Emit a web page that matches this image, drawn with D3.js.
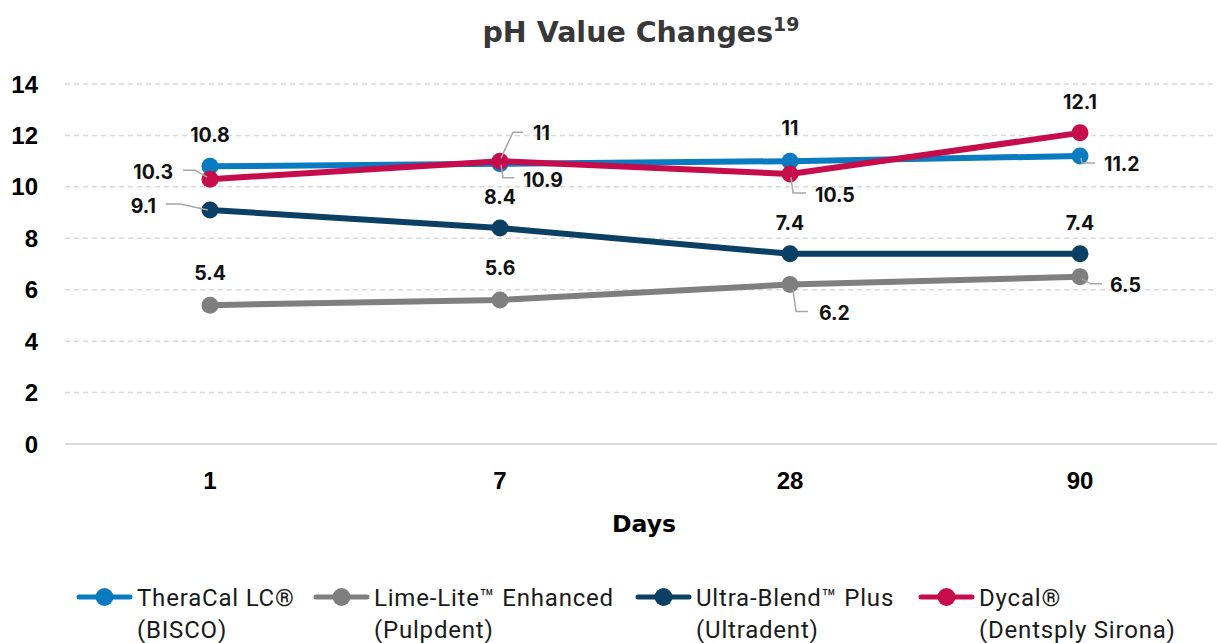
<!DOCTYPE html>
<html>
<head>
<meta charset="utf-8">
<script src="https://cdn.jsdelivr.net/npm/d3@7"></script>
<style>
  body { margin: 0; background: #fff; }
  svg { display: block; }
  .tick-label { font-family: "Liberation Sans", Arial, sans-serif; font-weight: bold; font-size: 24px; fill: #000; }
  .data-label { font-family: Inter, "Noto Sans", sans-serif; font-weight: 700; font-size: 19.5px; fill: #111; }
  .legend-text { font-family: Roboto, "Noto Sans", sans-serif; font-size: 24px; letter-spacing: 0.8px; fill: #1a1a1a; }
</style>
</head>
<body>
<svg id="chart" width="1217" height="643"></svg>
<script>
// 1: DATA
const days = ["1", "7", "28", "90"];
const seriesNames = ["TheraCal LC®", "Lime-Lite™ Enhanced", "Ultra-Blend™ Plus", "Dycal®"];
const seriesMakers = ["(BISCO)", "(Pulpdent)", "(Ultradent)", "(Dentsply Sirona)"];
const theraCal = [10.8, 10.9, 11, 11.2];
const limeLite = [5.4, 5.6, 6.2, 6.5];
const ultraBlend = [9.1, 8.4, 7.4, 7.4];
const dycal = [10.3, 11, 10.5, 12.1];
const yTicks = [0, 2, 4, 6, 8, 10, 12, 14];

const colors = ["#0B7BC1", "#7F7F7F", "#0B3F63", "#C60C4A"];

// label placement per point: dx, dy, anchor, leader line (offsets from point)
const labelLayout = [
  [ {dx: 0, dy: -31, a: "middle"},
    {dx: 23, dy: 16, a: "start", leader: [[1, 1], [3, 14], [14, 14]]},
    {dx: 0, dy: -33, a: "middle"},
    {dx: 24, dy: 8, a: "start", leader: [[1, 2], [2, 7], [15, 7]]} ],
  [ {dx: 0, dy: -32, a: "middle"},
    {dx: 0, dy: -32, a: "middle"},
    {dx: 29, dy: 28, a: "start", leader: [[3, 5], [6, 27], [18, 27]]},
    {dx: 30, dy: 8, a: "start", leader: [[2, 2], [11, 7], [22, 7]]} ],
  [ {dx: -54, dy: -4, a: "end", leader: [[-2, 0], [-30, -6], [-44, -6]]},
    {dx: 0, dy: -31, a: "middle"},
    {dx: 0, dy: -31, a: "middle"},
    {dx: 0, dy: -31, a: "middle"} ],
  [ {dx: -37, dy: -7, a: "end", leader: [[-3, -2], [-15, -9], [-27, -9]]},
    {dx: 33, dy: -28, a: "start", leader: [[1, -3], [13, -29], [23, -29]]},
    {dx: 25, dy: 21, a: "start", leader: [[1, 3], [3, 19], [16, 19]]},
    {dx: 0, dy: -31, a: "middle"} ]
];
const legendX = [77, 314, 636, 919];

const series = seriesNames.map((name, i) => ({
  name: name,
  maker: seriesMakers[i],
  color: colors[i],
  values: [theraCal, limeLite, ultraBlend, dycal][i]
}));

const svg = d3.select("#chart");

// 2: SCALES
const x = d3.scaleBand().domain(days).range([65, 1225]);
const y = d3.scaleLinear().domain([0, 14]).range([444, 84]);
const cx = d => x(d) + x.bandwidth() / 2;

// 3: GRID
svg.append("g")
  .selectAll("line")
  .data(yTicks)
  .join("line")
  .attr("x1", 65).attr("x2", 1217)
  .attr("y1", d => y(d)).attr("y2", d => y(d))
  .attr("stroke", "#D9D9D9")
  .attr("stroke-width", d => d === 0 ? 2 : 1.5)
  .attr("stroke-dasharray", d => d === 0 ? null : "5,4");

// 4: AXES LABELS
svg.append("g")
  .selectAll("text")
  .data(yTicks)
  .join("text")
  .attr("class", "tick-label")
  .attr("x", 38)
  .attr("y", d => y(d))
  .attr("dy", "0.36em")
  .attr("text-anchor", "end")
  .text(d => d);

svg.append("g")
  .selectAll("text")
  .data(days)
  .join("text")
  .attr("class", "tick-label")
  .attr("x", d => cx(d))
  .attr("y", 489)
  .attr("text-anchor", "middle")
  .text(d => d);

svg.append("text")
  .attr("x", 644).attr("y", 532)
  .attr("text-anchor", "middle")
  .style("font-family", "'DejaVu Sans', sans-serif")
  .style("font-weight", 700)
  .style("font-size", "23.5px")
  .style("fill", "#000")
  .text("Days");

// title
const title = svg.append("text")
  .attr("x", 641).attr("y", 42)
  .attr("text-anchor", "middle")
  .style("font-family", "'DejaVu Sans', sans-serif")
  .style("font-weight", 700)
  .style("font-size", "28.5px")
  .style("fill", "#383838");
title.append("tspan").text("pH Value Changes");
title.append("tspan").attr("dy", -11).style("font-size", "19px").text("19");

// 5: LINES AND POINTS
const line = d3.line()
  .x((d, i) => cx(days[i]))
  .y(d => y(d));

series.forEach(s => {
  svg.append("path")
    .datum(s.values)
    .attr("fill", "none")
    .attr("stroke", s.color)
    .attr("stroke-width", 6)
    .attr("stroke-linejoin", "round")
    .attr("d", line);
  svg.append("g")
    .selectAll("circle")
    .data(s.values)
    .join("circle")
    .attr("cx", (d, i) => cx(days[i]))
    .attr("cy", d => y(d))
    .attr("r", 8.5)
    .attr("fill", s.color);
});

// 6: DATA LABELS + LEADER LINES
series.forEach((s, si) => {
  s.values.forEach((v, i) => {
    const px = cx(days[i]), py = y(v);
    const lay = labelLayout[si][i];
    if (lay.leader) {
      svg.append("path")
        .attr("d", d3.line()(lay.leader.map(p => [px + p[0], py + p[1]])))
        .attr("fill", "none")
        .attr("stroke", "#A6A6A6")
        .attr("stroke-width", 1.5);
    }
    svg.append("text")
      .attr("class", "data-label")
      .attr("x", px + lay.dx)
      .attr("y", py + lay.dy)
      .attr("dy", "0.36em")
      .attr("text-anchor", lay.a)
      .text(v);
  });
});

// 7: LEGEND
const legend = svg.append("g");
series.forEach((s, i) => {
  const g = legend.append("g").attr("transform", `translate(${legendX[i]},597)`);
  g.append("line")
    .attr("x1", 2).attr("x2", 53)
    .attr("stroke", s.color).attr("stroke-width", 5)
    .attr("stroke-linecap", "round");
  g.append("circle").attr("cx", 27.5).attr("r", 9).attr("fill", s.color);
  g.append("text").attr("class", "legend-text").attr("x", 60).attr("y", 9).text(s.name);
  g.append("text").attr("class", "legend-text").attr("x", 60).attr("y", 41).text(s.maker);
});
</script>
</body>
</html>
